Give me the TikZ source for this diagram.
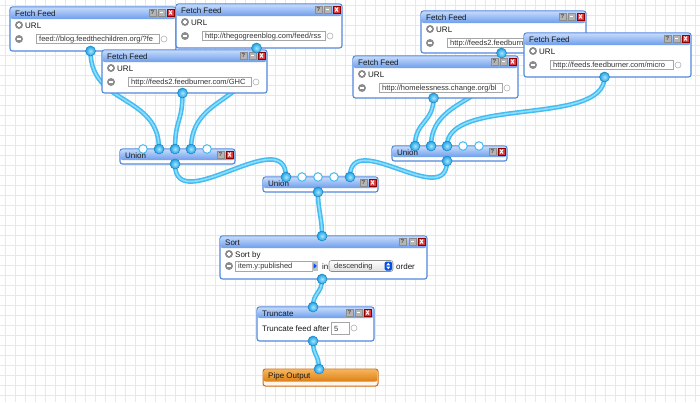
\documentclass[tikz,border=0pt]{standalone}
\usepackage{fontspec}
\setmainfont{Liberation Sans}
\definecolor{gridc}{HTML}{D9ECFB}
\definecolor{wireo}{HTML}{42BCF2}
\definecolor{wirei}{HTML}{8FDDFB}
\definecolor{barT}{HTML}{C2D8FA}
\definecolor{barB}{HTML}{6E9EEC}
\definecolor{frm}{HTML}{5288DE}
\definecolor{btng}{HTML}{B4B4B4}
\definecolor{btnr}{HTML}{E23A3A}
\definecolor{icong}{HTML}{8C8C8C}
\definecolor{termT}{HTML}{A6E6FF}
\definecolor{termB}{HTML}{1E9FE3}
\definecolor{orT}{HTML}{F6B45A}
\definecolor{orB}{HTML}{DC7F16}
\definecolor{orF}{HTML}{C86A10}
\pgfdeclarelayer{bg}
\pgfdeclarelayer{wires}
\pgfsetlayers{bg,wires,main}
\tikzset{
 gridline/.style={draw=gridc, line width=0.5pt},
 wire/.style={draw=wireo, line width=4.6pt, postaction={draw=wirei, line width=1.6pt}},
 modframe/.style={draw=frm, line width=1.1pt, fill=white, rounded corners=2.5pt},
 titlebar/.style={top color=barT, bottom color=barB, rounded corners=2pt},
 ttext/.style={anchor=base west, inner sep=0pt, font=\fontsize{8}{9}\selectfont, text=black!90},
 itext/.style={anchor=base west, inner sep=0pt, font=\fontsize{7.5}{9}\selectfont, text=black!80},
 inbox/.style={draw=black!35, fill=white, line width=0.6pt},
 smallterm/.style={draw=black!30, fill=white, line width=0.6pt},
 fterm/.style={draw=termB!85!black, line width=0.5pt, inner color=termT, outer color=termB},
 eterm/.style={draw=wireo, fill=white, line width=1pt},
 btnbox/.style={draw=black!45, fill=btng, line width=0.4pt},
 btnred/.style={draw=red!55!black, fill=btnr, line width=0.4pt},
}
% buttons: #1 name prefix, #2 local x
\newcommand\btnq[2]{\draw[btnbox] (#2,2) rectangle ++(7,7);
 \node[inner sep=0pt, font=\fontsize{6}{6}\selectfont\bfseries, text=black!70] (#1-q) at (#2+3.5,5.6) {?};}
\newcommand\btnm[1]{\draw[btnbox] (#1,2) rectangle ++(7,7);
 \draw[white, line width=1.2pt] (#1+1.8,5.5) -- (#1+5.2,5.5);}
\newcommand\btnx[1]{\draw[btnred] (#1,2) rectangle ++(7,7);
 \draw[white, line width=1pt] (#1+2,3.5) -- (#1+5,7.5) (#1+2,7.5) -- (#1+5,3.5);}
\newcommand\pluscirc[2]{\fill[icong] (#1,#2) circle (4pt);
 \draw[white, line width=1.2pt] (#1-2.2,#2) -- (#1+2.2,#2) (#1,#2-2.2) -- (#1,#2+2.2);}
\newcommand\minuscirc[2]{\fill[icong] (#1,#2) circle (4pt);
 \draw[white, line width=1.2pt] (#1-2.2,#2) -- (#1+2.2,#2);}
% fetch feed: #1 name, #2 x, #3 y, #4 w, #5 h, #6 url
\newcommand\fetchfeed[6]{%
\begin{scope}[shift={(#2,#3)}]
 \draw[modframe] (0,0) rectangle (#4,#5);
 \path[titlebar] (0.6,0.6) rectangle (#4-0.6,12);
 \node[ttext] (#1-t) at (5,9.5) {Fetch Feed};
 \btnq{#1}{#4-27}\btnm{#4-18}\btnx{#4-9}
 \pluscirc{9}{18}
 \node[ttext] (#1-l) at (15,21) {URL};
 \minuscirc{9}{32}
 \draw[inbox] (26,27.5) rectangle (149,36.5);
 \begin{scope}
  \clip (26.5,28) rectangle (148.5,36);
  \node[itext] (#1-u) at (29,34.8) {#6};
 \end{scope}
 \draw[smallterm] (154,32) circle (3pt);
 \coordinate (#1) at (80.5,#5);
\end{scope}}
% union: #1 name, #2 x, #3 y
\newcommand\unionbox[3]{%
\begin{scope}[shift={(#2,#3)}]
 \draw[modframe] (0,0) rectangle (115,15);
 \path[titlebar] (0.6,0.6) rectangle (114.4,11);
 \node[ttext] (#1-t) at (5,9.3) {Union};
 \btnq{#1}{97}\btnx{106}
 \coordinate (#1-1) at (23,0);
 \coordinate (#1-2) at (39,0);
 \coordinate (#1-3) at (55,0);
 \coordinate (#1-4) at (71,0);
 \coordinate (#1-5) at (87,0);
 \coordinate (#1-o) at (55,15);
\end{scope}}
\begin{document}
\begin{tikzpicture}[x=1pt,y=-1pt]
\useasboundingbox (0,0) rectangle (700,402);
\begin{pgfonlayer}{bg}
\fill[white] (0,0) rectangle (700,402);
\foreach \i in {5,15,...,695} \draw[gridline] (\i,0) -- (\i,402);
\foreach \j in {5,15,...,395} \draw[gridline] (0,\j) -- (700,\j);
\end{pgfonlayer}

\fetchfeed{ff1}{10}{7}{166}{44}{feed://blog.feedthechildren.org/?fe}
\fetchfeed{ff2}{176}{4}{166}{44}{http://thegogreenblog.com/feed/rss}
\fetchfeed{ff3}{102}{50}{165}{43}{http://feeds2.feedburner.com/GHC}
\fetchfeed{ff4}{421}{11}{165}{42}{http://feeds2.feedburn}
\fetchfeed{ff5}{524}{33}{167}{44}{http://feeds.feedburner.com/micro}
\fetchfeed{ff6}{353}{56}{165}{42}{http://homelessness.change.org/bl}

\unionbox{lu}{120}{149}
\unionbox{mu}{263}{177}
\unionbox{ru}{392}{146}

% Sort
\begin{scope}[shift={(220,236)}]
 \draw[modframe] (0,0) rectangle (207,43);
 \path[titlebar] (0.6,0.6) rectangle (206.4,12);
 \node[ttext] (sort-t) at (5,9.5) {Sort};
 \btnq{sort}{179}\btnm{189}\btnx{198}
 \pluscirc{9}{18}
 \node[ttext] (sort-l) at (15,21) {Sort by};
 \minuscirc{9}{30}
 \draw[inbox] (15,25) rectangle (92,35);
 \node[itext] (sort-f) at (18,32.8) {item.y:published};
 \fill[black!25] (92,25) rectangle (98,35);
 \fill[blue!70!cyan] (93.6,27.3) -- (96.8,30) -- (93.6,32.7) -- cycle;
 \node[ttext] (sort-in-t) at (102,33) {in};
 \draw[draw=black!45, top color=white, bottom color=black!12, rounded corners=2.5pt, line width=0.6pt] (109,24.5) rectangle (173,35.5);
 \node[itext] (sort-d) at (114,32.8) {descending};
 \fill[blue!65!cyan!90!black, rounded corners=1.5pt] (164.5,25.5) rectangle (172,34.5);
 \fill[white] (166.3,29.3) -- (168.25,26.8) -- (170.2,29.3) -- cycle;
 \fill[white] (166.3,30.7) -- (168.25,33.2) -- (170.2,30.7) -- cycle;
 \node[ttext] (sort-o) at (176,33) {order};
 \coordinate (sort-in) at (102,0);
 \coordinate (sort-out) at (102,43);
\end{scope}

% Truncate
\begin{scope}[shift={(257,307)}]
 \draw[modframe] (0,0) rectangle (117,34);
 \path[titlebar] (0.6,0.6) rectangle (116.4,11);
 \node[ttext] (trunc-t) at (5,9) {Truncate};
 \btnq{trunc}{89}\btnm{98}\btnx{107}
 \node[ttext] (trunc-l) at (5,24) {Truncate feed after};
 \draw[inbox] (74,15) rectangle (92,27);
 \node[itext] (trunc-v) at (77,24) {5};
 \draw[smallterm] (97,21) circle (3pt);
 \coordinate (trunc-in) at (56,0);
 \coordinate (trunc-out) at (56,34);
\end{scope}

% Pipe Output
\begin{scope}[shift={(263,369)}]
 \draw[draw=orF, fill=orange!8, rounded corners=2.5pt, line width=1pt] (0,0) rectangle (115,17);
 \path[top color=orT, bottom color=orB, rounded corners=2pt] (0.6,0.6) rectangle (114.4,12.5);
 \node[ttext] (pipe-t) at (5,9.8) {Pipe Output};
 \coordinate (pipe-in) at (56,0);
\end{scope}

% ---- wires (behind modules) ----
\begin{pgfonlayer}{wires}
\draw[wire] (ff1) .. controls +(0,55) and +(0,-55) .. (lu-2);
\draw[wire] (ff3) .. controls +(0,30) and +(0,-30) .. (lu-3);
\draw[wire] (ff2) .. controls +(0,55) and +(0,-55) .. (lu-4);
\draw[wire] (ff6) .. controls +(0,25) and +(0,-25) .. (ru-1);
\draw[wire] (ff4) .. controls +(0,50) and +(0,-50) .. (ru-2);
\draw[wire] (ff5) .. controls +(0,50) and +(0,-50) .. (ru-3);
\draw[wire] (lu-o) .. controls +(0,55) and +(0,-55) .. (mu-1);
\draw[wire] (ru-o) .. controls +(0,50) and +(0,-50) .. (mu-5);
\draw[wire] (mu-o) .. controls +(0,20) and +(0,-20) .. (sort-in);
\draw[wire] (sort-out) .. controls +(0,15) and +(0,-15) .. (trunc-in);
\draw[wire] (trunc-out) .. controls +(0,15) and +(0,-15) .. (pipe-in);
\end{pgfonlayer}

% ---- terminals (on top) ----
\foreach \t in {ff1,ff2,ff3,ff4,ff5,ff6,lu-2,lu-3,lu-4,lu-o,mu-1,mu-5,mu-o,ru-1,ru-2,ru-3,ru-o,sort-in,sort-out,trunc-in,trunc-out,pipe-in}
 \draw[fterm] (\t) circle (5pt);
\foreach \t in {lu-1,lu-5,mu-2,mu-3,mu-4,ru-4,ru-5}
 \draw[eterm] (\t) circle (4.3pt);
\end{tikzpicture}
\end{document}
